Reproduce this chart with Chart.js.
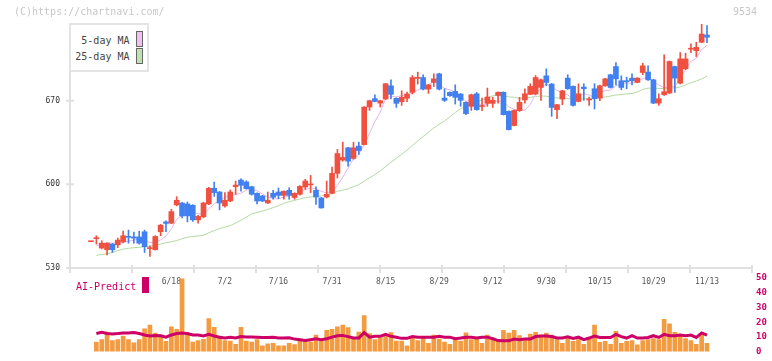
<!DOCTYPE html>
<html><head><meta charset="utf-8">
<script src="https://cdn.jsdelivr.net/npm/chart.js@4.4.1/dist/chart.umd.min.js"></script>
<style>
html,body{margin:0;padding:0;background:#fff;}
#wrap{position:relative;width:772px;height:361px;overflow:hidden;font-family:"DejaVu Sans Mono",monospace;}
canvas{position:absolute;left:0;top:0;}
.t{position:absolute;white-space:nowrap;line-height:10px;font-size:10px;}
</style></head><body>
<div id="wrap">
<canvas id="c1" width="772" height="361"></canvas>
<canvas id="c2" width="772" height="361"></canvas>
<div class="t" style="left:14px;top:7px;color:#c8c8c8">(C)https://chartnavi.com/</div>
<div class="t" style="left:733px;top:7px;color:#c8c8c8">9534</div>
<div style="position:absolute;left:69px;top:23px;width:76px;height:45px;border:2px solid #e4e4e4;background:#fff"></div>
<div class="t" style="left:70px;width:59.5px;text-align:right;top:35.5px;color:#444">5-day MA</div>
<div style="position:absolute;left:136px;top:31px;width:5px;height:14px;border:1px solid #666;background:#f0c0f0"></div>
<div class="t" style="left:70px;width:59.5px;text-align:right;top:51.5px;color:#444">25-day MA</div>
<div style="position:absolute;left:136px;top:48px;width:5px;height:14px;border:1px solid #666;background:#c0e0b0"></div>
<div class="t" style="left:76px;top:281.5px;color:#cc0066">AI-Predict</div>
<div style="position:absolute;left:142px;top:277px;width:7px;height:16px;background:#cc0066"></div>
</div>
<script>
// ---- data ----
const dateLabels = ['6/18','7/2','7/16','7/31','8/15','8/29','9/12','9/30','10/15','10/29','11/13'];
const dateLabelIdx = [15,25,35,45,55,65,75,85,95,105,115];
const yTicks = [530,600,670];
const volTicks = [0,10,20,30,40,50];

const open = [552,554.6,546.7,545.3,550,549.4,552,556.3,556,556,560.3,546.2,545.3,560.3,568.6,567.5,582.8,584.4,583.6,582.5,
570.3,572.8,583.6,596.7,593.6,581.9,586.1,598.1,603.6,602,598,592.5,590.3,584.4,592.5,593.6,590.8,595,589,591.7,
597.8,599.5,595,588.6,589.4,592.5,609.2,620.3,630.6,621.7,632,633.3,664.7,671.7,668,671.4,682.5,672,669.2,672,
677,688.7,689.4,679.7,685.3,692.5,672.2,677,677.8,675.6,668.6,665.3,675.8,665.1,667.8,667.8,674.4,677,661.1,649.2,
661.7,670.6,675.3,675.6,681.1,690.8,683.9,662.5,671.4,688.9,682,669.4,681.4,670.6,680,672.2,682.5,691.7,698.6,686.7,
686.3,688.9,685.3,693.6,694,687.5,668,675,676.4,698.6,684.7,696.7,713.1,711.9,718.9,725];
const high = [552.2,557,552.8,551,550.5,555,560.8,561.7,560,560.8,561.7,548.6,557,566.5,569.4,579.2,589.7,585,585.3,583,
574,585,597.5,601.9,594,593.1,595.3,602.8,604.7,603,598.5,593,590.8,593.6,595,597,594.5,597.2,593,599,
604.2,607.5,598,589,602.8,614.4,629.2,635.3,631,635.3,635.3,665,670.5,675,670.5,684.5,687.5,672.5,678.3,677.2,
691.1,693.9,691.7,683.5,692.5,693,680,677.5,683.3,676,669,675.5,676.9,672.2,680.6,672.8,677.5,677.5,661.5,662.3,
672.8,680,684.2,691.1,688,696.7,684.5,667,678.8,691.7,682.5,684.2,684.2,673.1,684.2,683,688.8,692.2,702,690.8,
689.7,692.5,689.4,701.4,699.2,688,675.8,708.3,703.3,699,710.3,709.7,717.5,718.9,734.2,732.8];
const low = [552,550,546,541,543,547,551,550.8,550.8,550,543,539.7,545,557,560.3,567,582,572,568.6,569,
567.5,572,583,590,578.6,581,585.5,591.7,594.4,596,591,583.6,585.5,584,587.5,588,587.5,587.5,587.5,591,
595.8,593.1,583.3,580,588.6,592,605.3,619.4,615.3,621,625,633,661.9,669,664.7,671,671.4,664.4,666.1,669.2,
675.6,683.9,679,676.1,681.9,679,669.4,673.5,667.2,665.3,658.3,661.9,662,661.7,665.3,664.4,668,658,645.5,649,
661,668,675,675,670.3,682.5,656.9,655,666.7,679.5,665.5,669,670.3,666.1,663.1,670,682,680.6,683.3,679.2,
680,683.3,685,691.7,687,667.5,666.1,674.5,676,677,684,696,710.3,707,718.5,718.6];
const close = [552.2,555,550.8,550.8,545.3,553.3,557,555.7,555,550.8,547.8,546.6,556.4,565.8,567.3,577.2,586.7,573.6,573.6,570.3,
573.3,584.4,596.7,593.1,584.4,586.7,593.6,599.4,599.2,596.4,591.7,586.1,586.1,586.7,589.2,590.8,594.2,590.8,592.5,598.3,
602.8,599.9,589.4,580.3,591.7,609.2,625.8,622.5,619.4,630.6,628.3,664.7,670,669.4,670,684.2,675.3,667.8,672.8,675.6,
689.4,689.1,679.7,683.3,688.3,679.7,670.3,674.2,672.8,670.3,659.2,675,662.5,665.5,673.1,670.3,677,658.3,645.8,661.9,
668.6,675.8,682,689.4,687.5,685.3,664.4,666.7,678.3,680,666.1,675.8,680,671,671.7,682.5,688.3,681.1,688.3,681.1,
685.9,686.7,688.9,699.2,687.5,668,671.7,677.5,702.8,688.9,705,705,713.5,714.7,725.8,723.1];
const ma5 = [null,548.5,550,551,550.8,551.0,551.4,552.4,553.3,554.4,553.3,551.2,551.3,553.5,
556.8,562.7,570.7,574.1,575.7,576.3,575.5,575.0,579.7,583.6,
586.4,589.1,590.9,591.4,592.7,595.1,596.1,594.6,591.9,589.4,
588.0,587.8,589.4,590.3,591.5,593.3,595.7,596.9,596.6,594.1,
592.8,594.1,599.3,605.9,613.7,621.5,625.3,633.1,642.6,652.6,
660.5,671.7,673.8,673.3,674.0,675.1,676.2,678.9,681.3,683.4,
686.0,684.0,680.3,679.2,677.1,673.5,669.4,670.3,668.0,666.5,
667.1,669.3,669.7,668.8,664.9,662.7,662.3,662.1,666.8,675.5,
680.7,684.0,681.7,678.7,676.4,674.9,671.1,673.4,676.0,674.6,
672.9,676.2,678.7,678.9,682.4,684.3,684.9,684.6,686.2,688.4,
689.6,686.1,683.1,680.8,681.5,681.8,689.2,695.8,703.0,705.4,712.8,716.4];
const ma25 = [null,540.6,541.2,542,543,544.5,545.8,546.5,547,547.3,547.8,548.3,549,550,551.2,552,553,554.5,555.8,556.4,
556.8,557.5,559.5,561.3,563,564.3,565.5,567.6,570,572.5,575.3,576.5,577.7,579.0,580.5,582.2,584.1,585.5,586.6,587.8,
588.8,589.4,590.0,590.3,591.1,592.5,594.2,595.2,596.3,598.1,599.8,602.6,605.5,608.3,611.2,614.9,618.5,621.8,625.2,628.7,
632.6,636.4,640.0,643.6,647.2,650.3,653.1,656.5,660.2,663.3,665.3,667.3,668.9,670.7,672.4,674.1,674.6,674.1,673.2,672.9,
672.2,672.3,672.8,673.5,674.0,673.8,672.8,672.3,672.1,671.8,671.2,671.4,671.7,671.6,671.7,672.6,673.1,673.9,674.8,675.1,
675.7,676.1,677.3,679.5,680.5,680.5,680.3,680.1,680.7,680.7,681.5,683.1,685.0,686.5,688.3,690.6];
const volume = [null,6.5,8.1,13.3,7.5,8.1,10.6,8.1,6,8.1,15.4,18.1,12.5,11.3,6.9,16.9,15.2,49.4,11.9,6.5,
7.5,8.3,22.5,16.5,10.6,7.5,7.1,5,16.5,7.1,6.5,8.1,4,5.2,5.6,4,4,5.6,4.8,8.5,
7.5,6.5,11.3,7.1,14.4,15.2,16.9,18.1,16.3,9.2,13.3,24.4,12.3,8.1,9.6,11.3,12.9,7.1,7.1,4,
9.6,7.5,9.2,5.6,11.3,8.5,6.5,5,8.5,7.1,12.7,8.1,8.5,5.6,11.3,9.2,7.1,14.5,12.5,14.4,
10.8,8.1,11.9,13.1,11.3,12.5,11.3,8.1,5.6,9.6,6.9,8.1,5,8.5,18.1,6.3,6.9,5,13.8,5.6,
6.9,7.5,4.6,7.5,8.1,8.8,8.1,21.9,18.8,13.1,11.3,8.8,7.5,5,11.9,5.6];
const aiPredict = [null,12.3,13.1,12.3,12,12.3,12.7,12.7,13,12.3,11.3,10.6,11,10.8,9.8,11.3,12.3,12.7,12.3,11.3,
11.3,10.6,11.7,10.6,9.8,9.2,9.8,9.2,10.2,10,10,9.8,9.6,9.6,9.8,9.2,9.2,9.4,8.5,8.1,
7.5,8.1,8.75,8.1,8.75,9.8,10.8,11,10.2,9.2,9.2,12.9,9.8,10.4,10.4,11.7,10.4,9.8,9,9,
10.2,9.8,9.8,9.8,9.8,10.4,9.8,9.8,8.75,9.2,9.8,9.8,9.2,9.8,9.8,8.75,7.5,7.3,7.3,8.5,
8.1,8.5,8.5,10.2,10.6,10.6,10.2,9.2,9.2,10,9,9.8,8.1,9.2,10.6,9.6,9.6,9.6,11.7,10.2,
9.2,10.8,9.2,9.2,9.6,10.8,9.6,11.7,10.8,10.8,11.25,10.8,11.25,9.6,12.7,11.25];

// ---- drawing ----
const FONT = '"DejaVu Sans Mono", monospace';
Chart.defaults.font.family = FONT;
const X_MIN = -3.92, X_MAX = 123.4;
const RED = '#f0503f', BLUE = '#4080f0';
const idx = close.map((_, i) => i);
const candleColors = idx.map(i => close[i] >= open[i] ? RED : BLUE);
const pts = arr => arr.map((v, i) => ({x: i, y: v}));

const axisTicks = {
  id: 'axisTicks',
  afterDraw(chart) {
    const {ctx, chartArea: a, scales} = chart;
    ctx.save();
    ctx.strokeStyle = '#e0e0e0';
    ctx.lineWidth = 2;
    ctx.beginPath();
    for (let k = 0; k <= 11; k++) {
      const px = a.left + (a.right - a.left) * k / 11;
      ctx.moveTo(px, a.bottom - 3); ctx.lineTo(px, a.bottom + 5);
    }
    scales.y.ticks.forEach(t => {
      const py = scales.y.getPixelForValue(t.value);
      ctx.moveTo(a.left - 4, py); ctx.lineTo(a.left + 4, py);
    });
    ctx.stroke();
    ctx.restore();
  }
};

new Chart(document.getElementById('c1'), {
  type: 'bar',
  data: {
    datasets: [
      {type: 'line', label: '25-day MA', data: pts(ma25), borderColor: '#b2d9a2', borderWidth: 1, pointRadius: 0, order: 3},
      {type: 'line', label: '5-day MA', data: pts(ma5), borderColor: '#e8b4e8', borderWidth: 1, pointRadius: 0, order: 2},
      {type: 'bar', label: 'range', data: idx.map(i => ({x: i, y: [low[i], high[i]]})), backgroundColor: candleColors, barThickness: 1, grouped: false, order: 1},
      {type: 'bar', label: 'body', data: idx.map(i => ({x: i, y: [open[i], close[i]]})), backgroundColor: candleColors, barThickness: 5, minBarLength: 1, grouped: false, order: 0}
    ]
  },
  options: {
    responsive: false, animation: false,
    layout: {padding: {top: 24, right: 20, bottom: 68, left: 0}},
    plugins: {legend: {display: false}, tooltip: {enabled: false}},
    scales: {
      x: {type: 'linear', min: X_MIN, max: X_MAX, weight: 0, offset: false,
          grid: {display: false, drawTicks: false, offset: false}, border: {display: true, color: '#e0e0e0', width: 2},
          ticks: {display: false}, afterFit(s) { s.height = 0; }},
      xl: {type: 'linear', axis: 'x', position: 'bottom', min: X_MIN, max: X_MAX, weight: 1, offset: false,
          grid: {display: false, drawTicks: false, offset: false}, border: {display: false},
          ticks: {color: '#555', font: {size: 8}, padding: 9.5, autoSkip: false, maxRotation: 0,
                  callback: v => { const k = dateLabelIdx.indexOf(v); return k >= 0 ? dateLabels[k] : ''; }},
          afterBuildTicks(s) { s.ticks = dateLabelIdx.map(v => ({value: v})); },
          afterFit(s) { s.height = 25; }},
      y: {min: 530, max: 734.2,
          grid: {display: false, drawTicks: false}, border: {display: true, color: '#e0e0e0', width: 2},
          ticks: {color: '#333', font: {size: 8}, padding: 10},
          afterBuildTicks(s) { s.ticks = yTicks.map(v => ({value: v})); },
          afterFit(s) { s.width = 70; }}
    }
  },
  plugins: [axisTicks]
});

new Chart(document.getElementById('c2'), {
  type: 'bar',
  data: {
    datasets: [
      {type: 'line', label: 'AI-Predict', data: pts(aiPredict), borderColor: '#cc0066', borderWidth: 3, pointRadius: 0, order: 0},
      {type: 'bar', label: 'volume', data: pts(volume), backgroundColor: '#f29b40', barThickness: 4, grouped: false, order: 1}
    ]
  },
  options: {
    responsive: false, animation: false,
    layout: {padding: {top: 278, right: 0, bottom: 3, left: 70}},
    plugins: {legend: {display: false}, tooltip: {enabled: false}},
    scales: {
      x: {type: 'linear', min: X_MIN, max: X_MAX, display: false, offset: false, grid: {offset: false}},
      y: {position: 'right', min: 0, max: 50,
          grid: {display: false, drawTicks: false}, border: {display: false},
          ticks: {color: '#cc0066', font: {size: 9, weight: 'bold'}, padding: 4},
          afterBuildTicks(s) { s.ticks = volTicks.map(v => ({value: v})); },
          afterFit(s) { s.width = 20; }}
    }
  }
});
</script>
</body></html>
